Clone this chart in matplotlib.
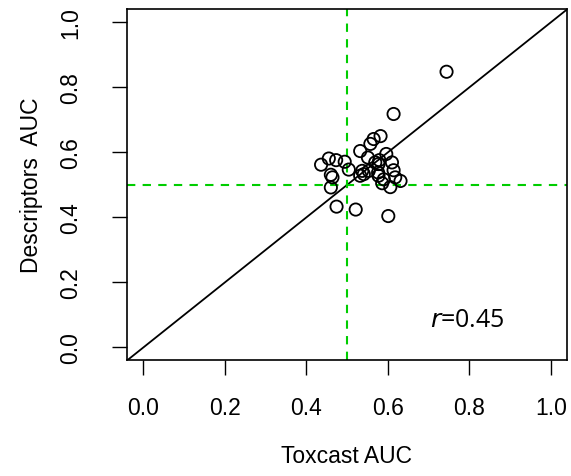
import matplotlib

matplotlib.use("Agg")
import matplotlib.pyplot as plt
import numpy as np

# AUC per assay: Toxcast model vs descriptors model
toxcast_auc = [0.744, 0.614, 0.582, 0.565, 0.557, 0.532, 0.551, 0.596, 0.436, 0.455,
               0.473, 0.494, 0.504, 0.460, 0.464, 0.460, 0.474, 0.521, 0.601, 0.579,
               0.577, 0.569, 0.610, 0.614, 0.537, 0.541, 0.532, 0.553, 0.576, 0.590,
               0.577, 0.618, 0.631, 0.586, 0.606]
descriptors_auc = [0.848, 0.718, 0.650, 0.641, 0.626, 0.604, 0.584, 0.595, 0.562, 0.581,
                   0.576, 0.571, 0.547, 0.531, 0.523, 0.492, 0.433, 0.424, 0.404, 0.576,
                   0.564, 0.569, 0.569, 0.545, 0.543, 0.533, 0.528, 0.543, 0.538, 0.517,
                   0.528, 0.523, 0.512, 0.505, 0.493]
ticks = [0.0, 0.2, 0.4, 0.6, 0.8, 1.0]
r_value = 0.45

plt.rcParams.update({
    "font.family": ["Liberation Sans", "DejaVu Sans"],
    "font.size": 16.5,
})

fig = plt.figure(figsize=(5.71, 4.77), dpi=100)
ax = fig.add_axes([0.222, 0.2438, 0.7705, 0.7352])

ax.plot([-0.1, 1.1], [-0.1, 1.1], color="black", lw=1.3, zorder=1)
ax.axvline(0.5, color="#00CD00", lw=1.5, ls=(0, (4, 3.5)), zorder=1)
ax.axhline(0.5, color="#00CD00", lw=1.5, ls=(0, (4, 3.5)), zorder=1)
ax.scatter(toxcast_auc, descriptors_auc, s=78, facecolors="none",
           edgecolors="black", linewidths=1.3, zorder=2)

ax.text(0.795, 0.087, "$\\it{r}$=" + f"{r_value:.2f}", ha="center", va="center",
        fontsize=18, family=["Open Sans", "DejaVu Sans"])

ax.set_xlim(-0.041, 1.039)
ax.set_ylim(-0.038, 1.041)
ax.set_xticks(ticks)
ax.set_yticks(ticks)
ax.set_xticklabels([f"{t:.1f}" for t in ticks])
ax.set_yticklabels([f"{t:.1f}" for t in ticks], rotation=90, va="center")
ax.tick_params(length=10.8, width=1.0)
ax.tick_params(axis="x", pad=15)
ax.tick_params(axis="y", pad=21)
for sp in ax.spines.values():
    sp.set_linewidth(1.2)

ax.set_xlabel("Toxcast AUC", labelpad=18)
ax.set_ylabel("Descriptors  AUC", labelpad=12)

fig.savefig("out.png", dpi=100)
